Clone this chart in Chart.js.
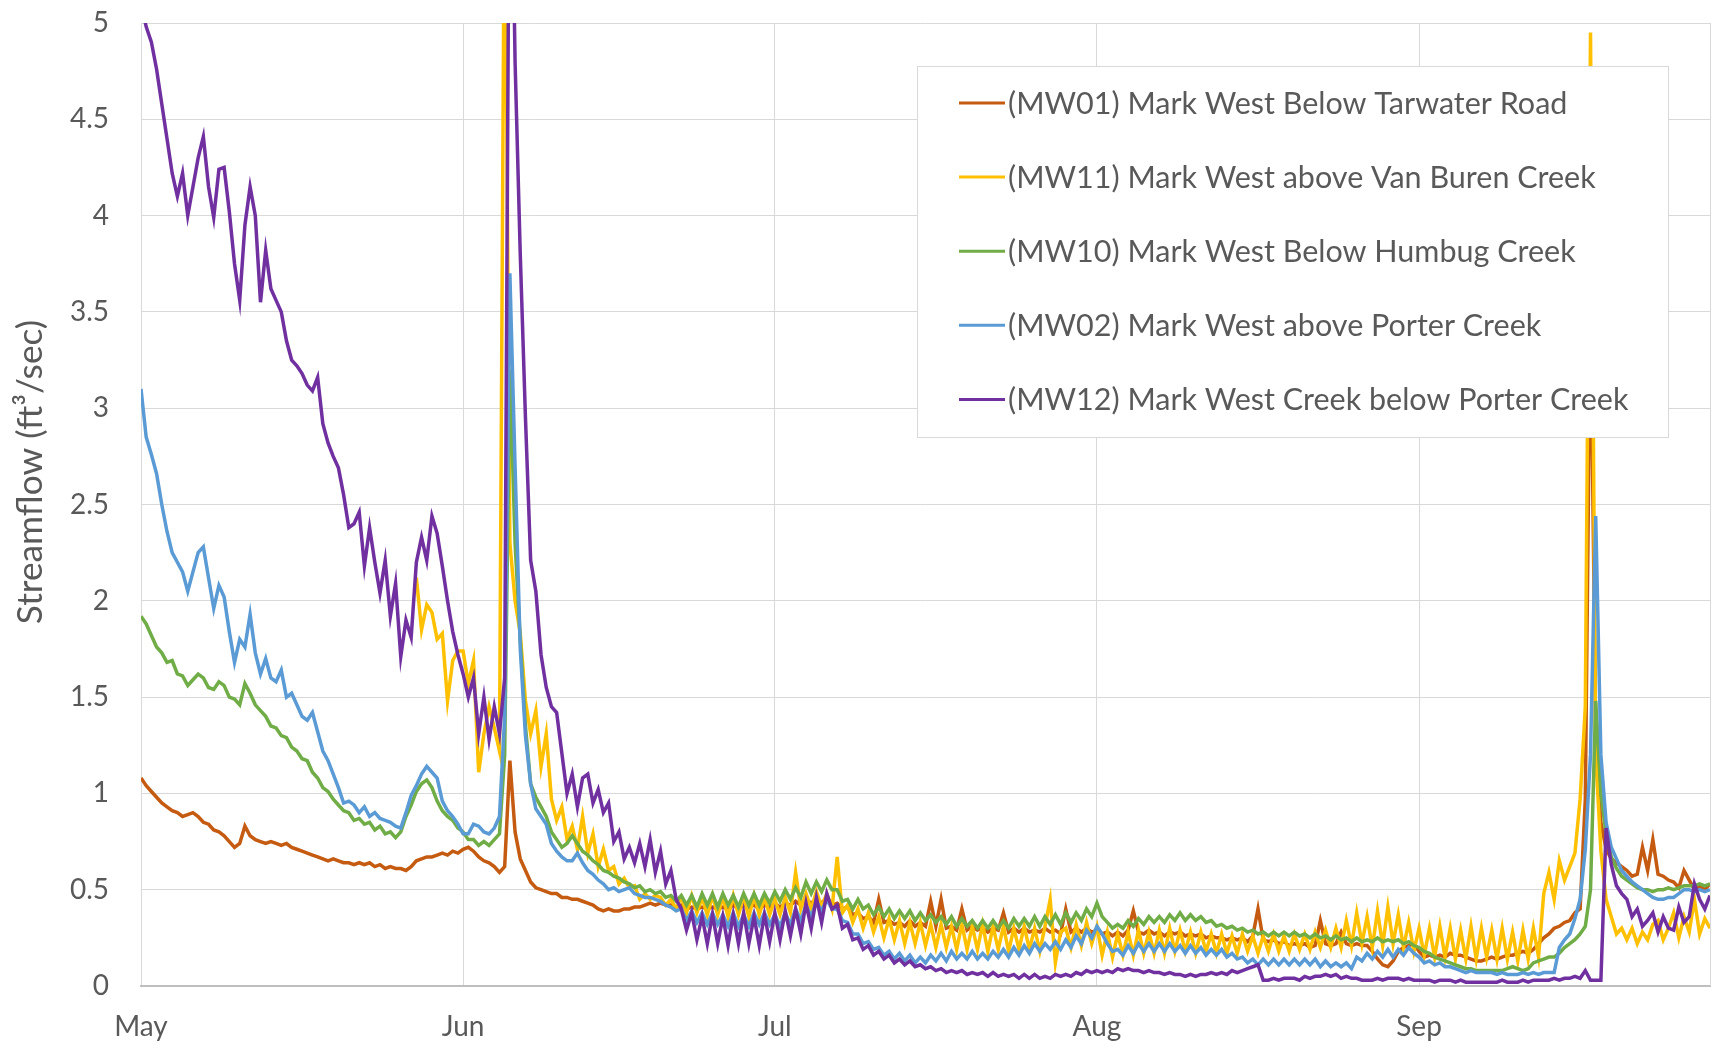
<!DOCTYPE html>
<html>
<head>
<meta charset="utf-8">
<title>Mark West Creek streamflow</title>
<script src="https://cdn.jsdelivr.net/npm/chart.js@4.4.0/dist/chart.umd.min.js"></script>
<style>
  html, body { margin: 0; padding: 0; background: #fff; }
  #wrap { width: 1716px; height: 1052px; }
</style>
</head>
<body>
<div id="wrap"><canvas id="flowChart" width="1716" height="1052"></canvas></div>
<script>
// x axis: days since May 1, month gridlines at the first of each month
var monthStarts = [0, 31, 61, 92, 123];
var monthLabels = ["May", "Jun", "Jul", "Aug", "Sep"];
var lastDay = 151;

var seriesNames = [
  "(MW01) Mark West Below Tarwater Road",
  "(MW11) Mark West above Van Buren Creek",
  "(MW10) Mark West Below Humbug Creek",
  "(MW02) Mark West above Porter Creek",
  "(MW12) Mark West Creek below Porter Creek"
];
var seriesColors = ["#c55a11", "#ffc000", "#70ad47", "#5b9bd5", "#7030a0"];

// streamflow in ft3/sec, two readings a day (midnight, noon), one row = 5 days
var mw01 = [
  1.08,1.04,1.01,0.98,0.95,0.93,0.91,0.90,0.88,0.89,
  0.90,0.88,0.85,0.84,0.81,0.80,0.78,0.75,0.72,0.74,
  0.83,0.78,0.76,0.75,0.74,0.75,0.74,0.73,0.74,0.72,
  0.71,0.70,0.69,0.68,0.67,0.66,0.65,0.66,0.65,0.64,
  0.64,0.63,0.64,0.63,0.64,0.62,0.63,0.61,0.62,0.61,
  0.61,0.60,0.62,0.65,0.66,0.67,0.67,0.68,0.69,0.68,
  0.70,0.69,0.71,0.72,0.70,0.67,0.65,0.64,0.62,0.59,
  0.62,1.17,0.80,0.66,0.60,0.54,0.51,0.50,0.49,0.48,
  0.48,0.46,0.46,0.45,0.45,0.44,0.43,0.42,0.40,0.39,
  0.40,0.39,0.39,0.40,0.40,0.41,0.41,0.42,0.43,0.42,
  0.43,0.42,0.42,0.41,0.42,0.40,0.41,0.40,0.41,0.40,
  0.41,0.40,0.41,0.40,0.42,0.40,0.42,0.41,0.42,0.40,
  0.42,0.41,0.43,0.41,0.43,0.42,0.44,0.42,0.45,0.43,
  0.45,0.43,0.46,0.42,0.43,0.40,0.41,0.37,0.38,0.35,
  0.36,0.33,0.45,0.33,0.34,0.32,0.33,0.31,0.34,0.31,
  0.33,0.31,0.44,0.31,0.45,0.30,0.31,0.29,0.40,0.29,
  0.31,0.29,0.30,0.28,0.30,0.29,0.38,0.28,0.30,0.28,
  0.30,0.28,0.29,0.28,0.30,0.28,0.29,0.27,0.40,0.28,
  0.30,0.28,0.30,0.28,0.29,0.27,0.28,0.26,0.28,0.26,
  0.29,0.39,0.28,0.27,0.29,0.27,0.28,0.26,0.28,0.27,
  0.28,0.26,0.27,0.26,0.27,0.25,0.26,0.25,0.25,0.24,
  0.25,0.24,0.25,0.23,0.26,0.40,0.24,0.23,0.24,0.22,
  0.23,0.21,0.22,0.21,0.22,0.20,0.21,0.34,0.22,0.21,
  0.22,0.28,0.22,0.21,0.22,0.21,0.21,0.18,0.14,0.11,
  0.10,0.13,0.18,0.20,0.21,0.22,0.18,0.15,0.16,0.15,
  0.16,0.15,0.17,0.16,0.16,0.15,0.14,0.13,0.13,0.14,
  0.15,0.14,0.15,0.16,0.16,0.17,0.18,0.17,0.19,0.22,
  0.25,0.27,0.30,0.31,0.33,0.34,0.38,0.40,0.97,3.60,
  1.30,0.85,0.71,0.66,0.64,0.62,0.60,0.57,0.58,0.72,
  0.60,0.76,0.58,0.57,0.55,0.54,0.51,0.60,0.55,0.50,
  0.52,0.50,0.53
];

// logger installed in late May
var mw11 = [
  null,null,null,null,null,null,null,null,null,null,
  null,null,null,null,null,null,null,null,null,null,
  null,null,null,null,null,null,null,null,null,null,
  null,null,null,null,null,null,null,null,null,null,
  null,null,null,null,null,null,null,null,null,null,
  null,null,null,2.12,1.85,1.98,1.94,1.80,1.83,1.48,
  1.69,1.74,1.74,1.57,1.69,1.11,1.31,1.45,1.34,1.22,
  6.00,2.30,2.00,1.83,1.48,1.31,1.43,1.14,1.31,0.97,
  0.86,0.93,0.76,0.83,0.71,0.88,0.69,0.79,0.62,0.71,
  0.60,0.62,0.53,0.56,0.51,0.52,0.45,0.48,0.45,0.47,
  0.46,0.42,0.45,0.40,0.46,0.38,0.47,0.38,0.46,0.37,
  0.47,0.37,0.46,0.36,0.47,0.37,0.46,0.36,0.47,0.37,
  0.46,0.37,0.45,0.37,0.46,0.38,0.59,0.40,0.48,0.40,
  0.49,0.41,0.48,0.40,0.67,0.38,0.42,0.33,0.40,0.30,
  0.38,0.28,0.36,0.25,0.35,0.24,0.34,0.22,0.33,0.22,
  0.33,0.21,0.32,0.20,0.32,0.20,0.31,0.19,0.32,0.19,
  0.31,0.19,0.32,0.18,0.31,0.19,0.31,0.18,0.30,0.19,
  0.31,0.19,0.30,0.18,0.31,0.45,0.12,0.28,0.30,0.20,
  0.32,0.21,0.33,0.22,0.31,0.16,0.28,0.15,0.27,0.16,
  0.28,0.16,0.29,0.17,0.28,0.17,0.29,0.17,0.30,0.18,
  0.29,0.18,0.28,0.17,0.28,0.18,0.27,0.17,0.27,0.17,
  0.26,0.17,0.27,0.18,0.26,0.17,0.26,0.18,0.27,0.18,
  0.26,0.18,0.27,0.19,0.27,0.19,0.28,0.20,0.29,0.20,
  0.30,0.20,0.34,0.21,0.38,0.22,0.36,0.20,0.39,0.21,
  0.41,0.22,0.37,0.20,0.33,0.18,0.30,0.16,0.30,0.15,
  0.31,0.15,0.30,0.14,0.29,0.14,0.31,0.14,0.30,0.15,
  0.29,0.14,0.30,0.14,0.28,0.13,0.29,0.14,0.30,0.15,
  0.48,0.59,0.45,0.65,0.55,0.62,0.69,0.97,1.45,4.95,
  1.20,0.70,0.45,0.36,0.27,0.30,0.24,0.30,0.22,0.28,
  0.24,0.32,0.34,0.24,0.30,0.38,0.25,0.36,0.28,0.45,
  0.27,0.35,0.30
];

var mw10 = [
  1.92,1.88,1.82,1.76,1.73,1.68,1.69,1.62,1.61,1.56,
  1.59,1.62,1.60,1.55,1.54,1.58,1.56,1.50,1.49,1.46,
  1.57,1.52,1.46,1.43,1.40,1.35,1.34,1.30,1.29,1.24,
  1.22,1.18,1.17,1.11,1.08,1.03,1.01,0.97,0.94,0.91,
  0.90,0.86,0.87,0.84,0.85,0.81,0.83,0.79,0.80,0.77,
  0.80,0.88,0.94,1.01,1.05,1.07,1.03,0.96,0.91,0.88,
  0.86,0.82,0.80,0.76,0.76,0.73,0.75,0.73,0.76,0.79,
  1.20,3.20,2.30,1.80,1.35,1.05,0.98,0.93,0.88,0.80,
  0.76,0.72,0.74,0.78,0.74,0.70,0.68,0.65,0.63,0.60,
  0.59,0.57,0.56,0.54,0.53,0.51,0.52,0.49,0.50,0.48,
  0.49,0.46,0.47,0.44,0.47,0.42,0.47,0.41,0.48,0.42,
  0.48,0.41,0.48,0.42,0.47,0.41,0.48,0.42,0.48,0.42,
  0.48,0.43,0.49,0.44,0.50,0.45,0.51,0.46,0.54,0.48,
  0.54,0.49,0.55,0.50,0.50,0.44,0.45,0.40,0.45,0.40,
  0.42,0.37,0.41,0.36,0.40,0.35,0.39,0.35,0.39,0.34,
  0.38,0.34,0.37,0.33,0.36,0.32,0.36,0.31,0.35,0.31,
  0.34,0.30,0.34,0.30,0.34,0.30,0.34,0.30,0.35,0.31,
  0.35,0.31,0.36,0.31,0.36,0.32,0.37,0.32,0.38,0.33,
  0.38,0.34,0.40,0.36,0.43,0.36,0.33,0.30,0.32,0.30,
  0.34,0.31,0.35,0.32,0.36,0.33,0.36,0.33,0.37,0.34,
  0.38,0.34,0.37,0.34,0.36,0.33,0.34,0.31,0.32,0.30,
  0.31,0.29,0.30,0.28,0.29,0.27,0.28,0.26,0.28,0.26,
  0.28,0.26,0.28,0.26,0.27,0.25,0.27,0.25,0.26,0.24,
  0.26,0.24,0.25,0.23,0.25,0.23,0.24,0.23,0.25,0.23,
  0.24,0.23,0.24,0.22,0.23,0.21,0.20,0.18,0.17,0.15,
  0.14,0.13,0.12,0.11,0.10,0.09,0.09,0.08,0.08,0.08,
  0.08,0.08,0.08,0.09,0.10,0.09,0.08,0.09,0.12,0.13,
  0.14,0.15,0.15,0.17,0.20,0.22,0.24,0.27,0.31,0.50,
  1.48,1.00,0.79,0.67,0.61,0.57,0.55,0.53,0.51,0.50,
  0.50,0.49,0.50,0.50,0.51,0.50,0.51,0.52,0.52,0.52,
  0.53,0.52,0.53
];

var mw02 = [
  3.10,2.85,2.76,2.66,2.50,2.36,2.25,2.20,2.15,2.05,
  2.15,2.25,2.28,2.12,1.96,2.08,2.02,1.84,1.68,1.80,
  1.76,1.93,1.73,1.62,1.70,1.60,1.58,1.64,1.50,1.52,
  1.46,1.40,1.38,1.42,1.32,1.22,1.17,1.10,1.03,0.95,
  0.96,0.94,0.90,0.93,0.88,0.90,0.87,0.86,0.85,0.83,
  0.82,0.90,0.99,1.04,1.10,1.14,1.11,1.08,0.96,0.91,
  0.88,0.84,0.79,0.79,0.84,0.83,0.80,0.79,0.82,0.88,
  1.40,3.70,2.70,1.75,1.30,1.05,0.92,0.88,0.84,0.74,
  0.70,0.67,0.65,0.65,0.69,0.64,0.60,0.58,0.55,0.53,
  0.50,0.51,0.49,0.50,0.51,0.48,0.47,0.46,0.46,0.45,
  0.44,0.42,0.41,0.39,0.40,0.34,0.39,0.33,0.38,0.32,
  0.38,0.32,0.37,0.31,0.38,0.31,0.37,0.31,0.38,0.32,
  0.38,0.32,0.37,0.31,0.38,0.32,0.40,0.34,0.42,0.36,
  0.44,0.39,0.45,0.40,0.40,0.34,0.33,0.27,0.27,0.22,
  0.23,0.19,0.20,0.16,0.18,0.14,0.17,0.13,0.16,0.12,
  0.15,0.12,0.16,0.13,0.17,0.13,0.18,0.14,0.17,0.14,
  0.18,0.14,0.17,0.14,0.18,0.15,0.19,0.15,0.20,0.16,
  0.21,0.17,0.22,0.18,0.22,0.19,0.23,0.19,0.24,0.20,
  0.26,0.22,0.29,0.25,0.31,0.27,0.22,0.18,0.19,0.16,
  0.21,0.17,0.22,0.18,0.22,0.18,0.22,0.18,0.22,0.18,
  0.21,0.17,0.21,0.17,0.20,0.16,0.19,0.16,0.19,0.15,
  0.17,0.14,0.15,0.12,0.14,0.11,0.14,0.11,0.14,0.11,
  0.14,0.11,0.14,0.11,0.14,0.11,0.14,0.10,0.13,0.10,
  0.12,0.10,0.12,0.09,0.15,0.13,0.17,0.14,0.18,0.15,
  0.19,0.15,0.19,0.16,0.20,0.17,0.15,0.12,0.13,0.11,
  0.12,0.10,0.10,0.09,0.08,0.07,0.08,0.07,0.07,0.07,
  0.07,0.06,0.07,0.06,0.06,0.06,0.07,0.06,0.07,0.06,
  0.07,0.07,0.07,0.20,0.24,0.27,0.35,0.45,0.71,1.20,
  2.44,1.20,0.85,0.72,0.66,0.60,0.57,0.54,0.52,0.50,
  0.48,0.46,0.45,0.45,0.46,0.46,0.48,0.50,0.50,0.49,
  0.50,0.49,0.50
];

var mw12 = [
  5.10,4.98,4.90,4.76,4.58,4.40,4.22,4.10,4.22,4.00,
  4.15,4.30,4.41,4.15,3.99,4.24,4.25,4.02,3.75,3.56,
  3.95,4.15,4.00,3.55,3.82,3.62,3.56,3.50,3.35,3.25,
  3.22,3.18,3.12,3.09,3.16,2.92,2.82,2.75,2.69,2.55,
  2.38,2.40,2.46,2.18,2.38,2.20,2.04,2.21,1.92,2.09,
  1.71,1.90,1.81,2.20,2.33,2.21,2.44,2.35,2.18,2.00,
  1.84,1.72,1.62,1.50,1.60,1.31,1.50,1.28,1.45,1.31,
  1.60,6.50,4.80,3.80,2.95,2.21,2.05,1.72,1.55,1.45,
  1.42,1.21,1.00,1.10,0.93,1.08,1.10,0.95,1.02,0.90,
  0.95,0.75,0.80,0.66,0.72,0.64,0.74,0.62,0.76,0.59,
  0.70,0.53,0.60,0.45,0.40,0.29,0.38,0.24,0.36,0.22,
  0.37,0.22,0.36,0.21,0.37,0.22,0.38,0.22,0.36,0.21,
  0.37,0.23,0.38,0.24,0.39,0.26,0.40,0.27,0.43,0.30,
  0.46,0.33,0.48,0.40,0.42,0.30,0.32,0.24,0.25,0.19,
  0.21,0.16,0.18,0.14,0.16,0.12,0.14,0.11,0.13,0.10,
  0.11,0.09,0.10,0.08,0.09,0.07,0.08,0.07,0.08,0.06,
  0.07,0.06,0.07,0.05,0.07,0.05,0.06,0.05,0.06,0.04,
  0.06,0.04,0.06,0.04,0.05,0.04,0.06,0.05,0.06,0.05,
  0.07,0.06,0.08,0.07,0.08,0.07,0.08,0.07,0.09,0.08,
  0.09,0.08,0.08,0.07,0.08,0.07,0.07,0.06,0.07,0.06,
  0.06,0.05,0.06,0.05,0.06,0.06,0.07,0.06,0.07,0.06,
  0.08,0.07,0.08,0.09,0.10,0.11,0.03,0.03,0.04,0.03,
  0.04,0.04,0.04,0.03,0.05,0.04,0.05,0.05,0.06,0.05,
  0.06,0.04,0.05,0.04,0.04,0.03,0.03,0.03,0.04,0.03,
  0.04,0.04,0.04,0.03,0.04,0.03,0.03,0.03,0.03,0.02,
  0.03,0.03,0.03,0.02,0.03,0.02,0.02,0.02,0.02,0.02,
  0.02,0.02,0.03,0.02,0.02,0.02,0.03,0.02,0.03,0.03,
  0.03,0.03,0.04,0.03,0.04,0.04,0.05,0.04,0.08,0.03,
  0.03,0.03,0.82,0.63,0.52,0.48,0.45,0.36,0.40,0.31,
  0.34,0.38,0.28,0.36,0.30,0.29,0.41,0.33,0.36,0.53,
  0.45,0.40,0.47
];

var days = [];
for (var i = 0; i <= lastDay * 2; i++) days.push(i / 2);

var allSeries = [mw01, mw11, mw10, mw02, mw12];
allSeries.forEach(function (s, k) {
  if (s.length !== days.length) {
    throw new Error(seriesNames[k] + ": " + s.length + " values, expected " + days.length);
  }
});

var textColor = "#595959";
var gridColor = "#d9d9d9";

function fitSize(ctx, text, family, width) {
  ctx.font = "100px " + family;
  return 100 * width / ctx.measureText(text).width;
}

// y title and the boxed legend sitting inside the plot, drawn over the lines
var titleAndLegend = {
  id: "titleAndLegend",
  afterDraw: function (chart) {
    var ctx = chart.ctx;
    var area = chart.chartArea;
    ctx.save();

    ctx.strokeStyle = gridColor;
    ctx.lineWidth = 1;
    ctx.beginPath();
    ctx.moveTo(area.right + 0.5, area.top);
    ctx.lineTo(area.right + 0.5, area.bottom);
    ctx.stroke();

    var title = "Streamflow (ft\u00b3/sec)";
    var ts = fitSize(ctx, title, "Lato", 304);
    ctx.font = ts.toFixed(1) + "px Lato";
    ctx.fillStyle = textColor;
    ctx.textAlign = "center";
    ctx.textBaseline = "middle";
    ctx.translate(31, 472);
    ctx.rotate(-Math.PI / 2);
    ctx.fillText(title, 0, 0);
    ctx.setTransform(1, 0, 0, 1, 0, 0);

    var box = { x: 917, y: 66, w: 751, h: 371 };
    ctx.fillStyle = "#ffffff";
    ctx.fillRect(box.x, box.y, box.w, box.h);
    ctx.strokeStyle = gridColor;
    ctx.strokeRect(box.x + 0.5, box.y + 0.5, box.w, box.h);

    var ls = fitSize(ctx, seriesNames[4], "Lato", 620);
    ctx.font = ls.toFixed(1) + "px Lato";
    ctx.textAlign = "left";
    ctx.textBaseline = "middle";
    seriesNames.forEach(function (name, k) {
      var y = box.y + 37 + k * 74.1;
      ctx.strokeStyle = seriesColors[k];
      ctx.lineWidth = 3;
      ctx.beginPath();
      ctx.moveTo(959, y);
      ctx.lineTo(1005, y);
      ctx.stroke();
      ctx.fillStyle = textColor;
      ctx.fillText(name, 1008, y + 1);
    });
    ctx.restore();
  }
};

var datasets = allSeries.map(function (vals, k) {
  return {
    label: seriesNames[k],
    data: days.map(function (d, j) { return { x: d, y: vals[j] }; }),
    borderColor: seriesColors[k],
    backgroundColor: seriesColors[k],
    borderWidth: 3.5,
    pointRadius: 0,
    tension: 0,
    spanGaps: false,
    // later stations are drawn on top
    order: allSeries.length - k
  };
});

new Chart(document.getElementById("flowChart"), {
  type: "line",
  data: { datasets: datasets },
  options: {
    responsive: false,
    animation: false,
    events: [],
    layout: { padding: { top: 23, right: 6, left: 0, bottom: 0 } },
    plugins: {
      legend: { display: false },
      tooltip: { enabled: false }
    },
    scales: {
      x: {
        type: "linear",
        min: 0,
        max: lastDay,
        afterBuildTicks: function (scale) {
          scale.ticks = monthStarts.map(function (v) { return { value: v }; });
        },
        afterFit: function (scale) {
          scale.height = 66;
          scale.paddingLeft = 0;
          scale.paddingRight = 0;
        },
        ticks: {
          autoSkip: false,
          maxRotation: 0,
          padding: 24,
          color: textColor,
          font: { family: "Lato", size: 28 },
          callback: function (v) { return monthLabels[monthStarts.indexOf(v)]; }
        },
        grid: { color: gridColor, drawTicks: false },
        border: { color: "#bfbfbf", width: 2 }
      },
      y: {
        min: 0,
        max: 5,
        afterFit: function (scale) {
          scale.width = 141;
          scale.paddingTop = 0;
          scale.paddingBottom = 0;
        },
        ticks: {
          stepSize: 0.5,
          padding: 32,
          color: textColor,
          font: { family: "Lato", size: 28 },
          callback: function (v) { return String(v); }
        },
        grid: { color: gridColor, drawTicks: false },
        border: { display: false }
      }
    }
  },
  plugins: [titleAndLegend]
});
</script>
</body>
</html>
